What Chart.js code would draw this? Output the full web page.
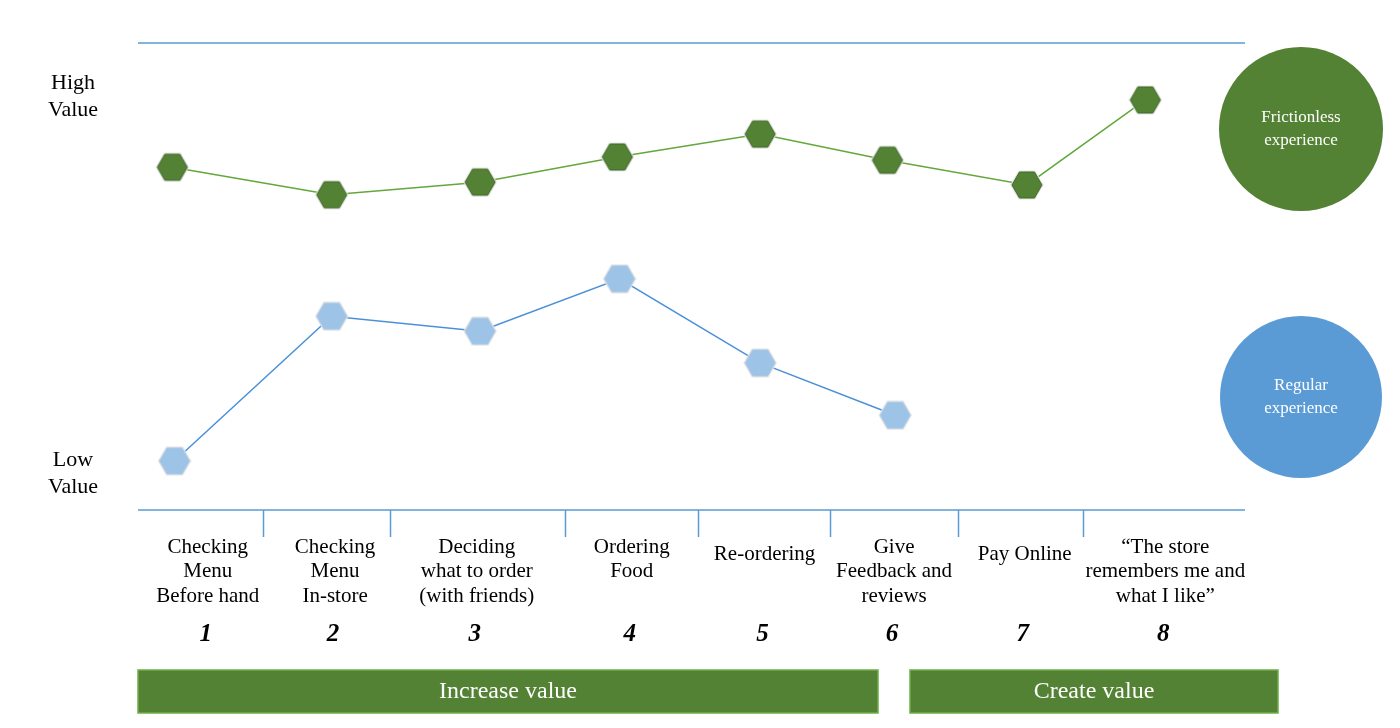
<!DOCTYPE html>
<html lang="en">
<head>
  <meta charset="UTF-8" />
  <title>Customer journey value</title>
  <script src="https://cdn.jsdelivr.net/npm/chart.js"></script>
  <style>
    html, body { margin: 0; padding: 0; background: #fff; }
    #chart { display: block; }
  </style>
</head>
<body>
  <canvas id="chart" width="1400" height="728"></canvas>
  <script>
    // journey steps (label lines) and where each sits on the 0-100 x scale
    const steps = [
      ["Checking", "Menu", "Before hand"],
      ["Checking", "Menu", "In-store"],
      ["Deciding", "what to order", "(with friends)"],
      ["Ordering", "Food"],
      ["Re-ordering"],
      ["Give", "Feedback and", "reviews"],
      ["Pay Online"],
      ["\u201cThe store", "remembers me and", "what I like\u201d"]
    ];
    const stepNumbers = ["1", "2", "3", "4", "5", "6", "7", "8"];
    const stepX = [6.3, 17.8, 30.6, 44.6, 56.6, 68.3, 80.1, 92.8];
    const dividers = [11.3, 22.8, 38.6, 50.6, 62.5, 74.1, 85.4];

    // frictionless experience (green)
    const greenX = [3.1, 17.5, 30.9, 43.3, 56.2, 67.7, 80.3, 91.0];
    const greenY = [73.4, 67.5, 70.2, 75.6, 80.5, 74.9, 69.6, 87.8];
    // regular experience (blue)
    const blueX = [3.3, 17.5, 30.9, 43.5, 56.2, 68.4];
    const blueY = [10.5, 41.5, 38.3, 49.5, 31.5, 20.3];

    const phases = [
      { label: "Increase value", x0: 138, x1: 878 },
      { label: "Create value", x0: 910, x1: 1278 }
    ];

    const SERIF = '"Liberation Serif", "DejaVu Serif", serif';

    // hexagon marker as pointStyle image
    function hexagon(fill, stroke) {
      const c = document.createElement("canvas");
      c.width = 34; c.height = 30;
      const g = c.getContext("2d");
      const cx = 17, cy = 15, rx = 15, ry = 13;
      g.beginPath();
      g.moveTo(cx - rx, cy);
      g.lineTo(cx - rx / 2, cy - ry);
      g.lineTo(cx + rx / 2, cy - ry);
      g.lineTo(cx + rx, cy);
      g.lineTo(cx + rx / 2, cy + ry);
      g.lineTo(cx - rx / 2, cy + ry);
      g.closePath();
      g.lineWidth = 3;
      g.strokeStyle = "#e4e4e4";
      g.stroke();
      g.fillStyle = fill;
      g.fill();
      g.lineWidth = 1;
      g.strokeStyle = stroke;
      g.stroke();
      return c;
    }

    const decor = {
      id: "decor",
      beforeDatasetsDraw(chart) {
        const { ctx, scales: { x, y } } = chart;
        ctx.save();
        // top and bottom rules
        ctx.strokeStyle = "#5b9bd5";
        ctx.lineWidth = 1.5;
        const yTop = y.getPixelForValue(100), yBot = y.getPixelForValue(0);
        ctx.beginPath();
        ctx.moveTo(x.getPixelForValue(0), yTop);
        ctx.lineTo(x.getPixelForValue(100), yTop);
        ctx.moveTo(x.getPixelForValue(0), yBot);
        ctx.lineTo(x.getPixelForValue(100), yBot);
        dividers.forEach(v => {
          const px = Math.round(x.getPixelForValue(v)) + 0.5;
          ctx.moveTo(px, yBot);
          ctx.lineTo(px, yBot + 27);
        });
        ctx.stroke();
        ctx.restore();
      },
      afterDraw(chart) {
        const { ctx, scales: { x, y } } = chart;
        ctx.save();
        ctx.textAlign = "center";
        ctx.textBaseline = "middle";

        // left axis words
        ctx.fillStyle = "#000";
        ctx.font = "22px " + SERIF;
        ctx.fillText("High", 73, 83);
        ctx.fillText("Value", 73, 110);
        ctx.fillText("Low", 73, 460);
        ctx.fillText("Value", 73, 487);

        // step labels
        const yBot = y.getPixelForValue(0);
        ctx.font = "21px " + SERIF;
        steps.forEach((lines, i) => {
          const px = x.getPixelForValue(stepX[i]);
          const start = lines.length === 1 ? yBot + 44 : yBot + 37;
          lines.forEach((t, j) => ctx.fillText(t, px, start + j * 24.5));
        });
        ctx.font = "italic bold 25px " + SERIF;
        stepNumbers.forEach((t, i) => {
          ctx.fillText(t, x.getPixelForValue(stepX[i]) - 2, yBot + 125);
        });

        // legend circles
        const circles = [
          { cx: 1301, cy: 129, r: 82, fill: "#548235", text: ["Frictionless", "experience"] },
          { cx: 1301, cy: 397, r: 81, fill: "#5b9bd5", text: ["Regular", "experience"] }
        ];
        circles.forEach(c => {
          ctx.beginPath();
          ctx.arc(c.cx, c.cy, c.r, 0, Math.PI * 2);
          ctx.fillStyle = c.fill;
          ctx.fill();
          ctx.fillStyle = "#fff";
          ctx.font = "17px " + SERIF;
          ctx.fillText(c.text[0], c.cx, c.cy - 11);
          ctx.fillText(c.text[1], c.cx, c.cy + 12);
        });

        // phase bars
        phases.forEach(p => {
          ctx.fillStyle = "#548235";
          ctx.fillRect(p.x0, 670, p.x1 - p.x0, 43);
          ctx.strokeStyle = "#70ad47";
          ctx.lineWidth = 1.5;
          ctx.strokeRect(p.x0, 670, p.x1 - p.x0, 43);
          ctx.fillStyle = "#fff";
          ctx.font = "24px " + SERIF;
          ctx.fillText(p.label, (p.x0 + p.x1) / 2, 692);
        });
        ctx.restore();
      }
    };

    new Chart(document.getElementById("chart"), {
      type: "scatter",
      data: {
        datasets: [
          {
            label: "Frictionless experience",
            data: greenX.map((v, i) => ({ x: v, y: greenY[i] })),
            showLine: true,
            borderColor: "#62a83a",
            borderWidth: 1.5,
            pointStyle: hexagon("#548235", "#3f6a27"),
            pointRadius: 15,
            clip: false
          },
          {
            label: "Regular experience",
            data: blueX.map((v, i) => ({ x: v, y: blueY[i] })),
            showLine: true,
            borderColor: "#4a90d9",
            borderWidth: 1.5,
            pointStyle: hexagon("#9dc3e6", "#a9c9e8"),
            pointRadius: 15,
            clip: false
          }
        ]
      },
      options: {
        responsive: false,
        animation: false,
        layout: { padding: { left: 138, right: 155, top: 43, bottom: 218 } },
        plugins: { legend: { display: false }, tooltip: { enabled: false } },
        scales: {
          x: { type: "linear", min: 0, max: 100, display: false },
          y: { min: 0, max: 100, display: false }
        }
      },
      plugins: [decor]
    });
  </script>
</body>
</html>
